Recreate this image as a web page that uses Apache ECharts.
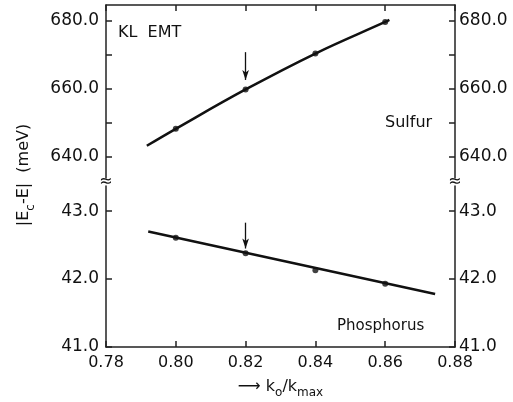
<!DOCTYPE html>
<html><head><meta charset="utf-8">
<script src="https://cdn.jsdelivr.net/npm/echarts@6/dist/echarts.min.js"></script>
<style>html,body{margin:0;padding:0;background:#fff}#c{width:513px;height:402px}</style>
</head><body><div id="c"></div>
<script>
// ---- data ----
const xTicks = [0.78, 0.80, 0.82, 0.84, 0.86, 0.88];
const sulfurTicks = [640, 660, 680];
const sulfurTickMarks = [640, 650, 660, 670, 680];
const phosTicks = [41, 42, 43];
const sulfurX = [0.80, 0.82, 0.84, 0.86];
const sulfurY = [648.2, 659.8, 670.4, 679.7];
const sulfurFitX = [0.7917, 0.80, 0.82, 0.84, 0.86, 0.8612];
const sulfurFitY = [643.2, 648.2, 659.8, 670.4, 679.7, 680.3];
const phosX = [0.80, 0.82, 0.84, 0.86];
const phosY = [42.61, 42.38, 42.13, 41.93];
const phosFitX = [0.7921, 0.8743];
const phosFitY = [42.70, 41.78];
const arrowX = 0.82;
const sulfurArrow = [670.8, 662.6];
const phosArrow = [42.83, 42.45];
const sulfurRange = [633.7, 684.7];
const phosRange = [41, 43.37];

const zip = (a, b) => a.map((v, i) => [v, b[i]]);
const FONT = 'DejaVu Sans';
const INK = '#111';
const axisLineStyle = { color: '#222', width: 1.5 };

function xAxisCfg(grid, pos, showLabels) {
  const c = {
    type: 'value', gridIndex: grid, position: pos, min: 0.78, max: 0.88, interval: 0.02,
    axisLine: { show: true, lineStyle: axisLineStyle },
    axisTick: { show: true, inside: true, length: 6, customValues: xTicks, lineStyle: axisLineStyle },
    axisLabel: { show: showLabels, customValues: xTicks, formatter: v => v.toFixed(2), margin: 8,
                 color: INK, fontFamily: FONT, fontSize: 16 },
    splitLine: { show: false }
  };
  if (showLabels) {
    c.name = '{arr|⟶} k{sub|o}/k{sub|max}';
    c.nameLocation = 'middle';
    c.nameGap = 28;
    c.nameTextStyle = {
      color: INK, fontFamily: FONT, fontSize: 16, lineHeight: 24,
      rich: {
        arr: { fontSize: 16, fontFamily: FONT, color: INK, lineHeight: 24 },
        sub: { fontSize: 12, fontFamily: FONT, color: INK, verticalAlign: 'bottom', lineHeight: 12 }
      }
    };
  }
  return c;
}

function yAxisCfg(grid, pos, range, labels, ticks, margin) {
  return {
    type: 'value', gridIndex: grid, position: pos, min: range[0], max: range[1],
    axisLine: { show: true, lineStyle: axisLineStyle },
    axisTick: { show: true, inside: true, length: 6, customValues: ticks, lineStyle: axisLineStyle },
    axisLabel: { show: true, customValues: labels, formatter: v => v.toFixed(1), margin: margin,
                 color: INK, fontFamily: FONT, fontSize: 17 },
    splitLine: { show: false }
  };
}

const arrowMark = (vals) => ({
  silent: true, animation: false,
  symbol: ['none', 'arrow'], symbolSize: [5, 10],
  label: { show: false },
  lineStyle: { color: INK, width: 1.3, type: 'solid' },
  data: [[{ coord: [arrowX, vals[0]] }, { coord: [arrowX, vals[1]] }]]
});

const chart = echarts.init(document.getElementById('c'));
chart.setOption({
  animation: false,
  backgroundColor: '#fff',
  grid: [
    { left: 106, right: 58, top: 5, height: 173 },
    { left: 106, right: 58, top: 186, height: 161 }
  ],
  xAxis: [ xAxisCfg(0, 'top', false), xAxisCfg(1, 'bottom', true) ],
  yAxis: [
    yAxisCfg(0, 'left', sulfurRange, sulfurTicks, sulfurTickMarks, 7),
    yAxisCfg(0, 'right', sulfurRange, sulfurTicks, sulfurTickMarks, 4),
    yAxisCfg(1, 'left', phosRange, phosTicks, phosTicks, 7),
    yAxisCfg(1, 'right', phosRange, phosTicks, phosTicks, 4)
  ],
  series: [
    { name: 'Sulfur fit', type: 'line', xAxisIndex: 0, yAxisIndex: 0, smooth: 0.4,
      showSymbol: false, data: zip(sulfurFitX, sulfurFitY),
      lineStyle: { color: INK, width: 2.5 }, markLine: arrowMark(sulfurArrow) },
    { name: 'Sulfur', type: 'scatter', xAxisIndex: 0, yAxisIndex: 0, symbolSize: 6,
      data: zip(sulfurX, sulfurY), itemStyle: { color: INK } },
    { name: 'Phosphorus fit', type: 'line', xAxisIndex: 1, yAxisIndex: 2,
      showSymbol: false, data: zip(phosFitX, phosFitY),
      lineStyle: { color: INK, width: 2.5 }, markLine: arrowMark(phosArrow) },
    { name: 'Phosphorus', type: 'scatter', xAxisIndex: 1, yAxisIndex: 2, symbolSize: 6,
      data: zip(phosX, phosY), itemStyle: { color: INK } }
  ],
  graphic: [
    { type: 'text', x: 118, y: 33, style: { text: 'KL  EMT', font: '16px "DejaVu Sans"', fill: INK, textVerticalAlign: 'middle' } },
    { type: 'text', x: 385, y: 123, style: { text: 'Sulfur', font: '16px "DejaVu Sans"', fill: INK, textVerticalAlign: 'middle' } },
    { type: 'text', x: 337, y: 326, style: { text: 'Phosphorus', font: '15px "DejaVu Sans"', fill: INK, textVerticalAlign: 'middle' } },
    { type: 'text', x: 106, y: 182, style: { text: '≈', font: '16px "DejaVu Sans"', fill: INK, textAlign: 'center', textVerticalAlign: 'middle' } },
    { type: 'text', x: 455, y: 182, style: { text: '≈', font: '16px "DejaVu Sans"', fill: INK, textAlign: 'center', textVerticalAlign: 'middle' } },
    { type: 'text', x: 24, y: 175, rotation: Math.PI / 2,
      style: { text: '{n||E}{sub|c}{n|-E|  (meV)}', fill: INK,
               textAlign: 'center', textVerticalAlign: 'middle',
               rich: {
                 n: { fontSize: 16, fontFamily: FONT, fill: INK, lineHeight: 26 },
                 sub: { fontSize: 12, fontFamily: FONT, fill: INK, verticalAlign: 'bottom', lineHeight: 12 }
               } } }
  ]
});
</script>
</body></html>
